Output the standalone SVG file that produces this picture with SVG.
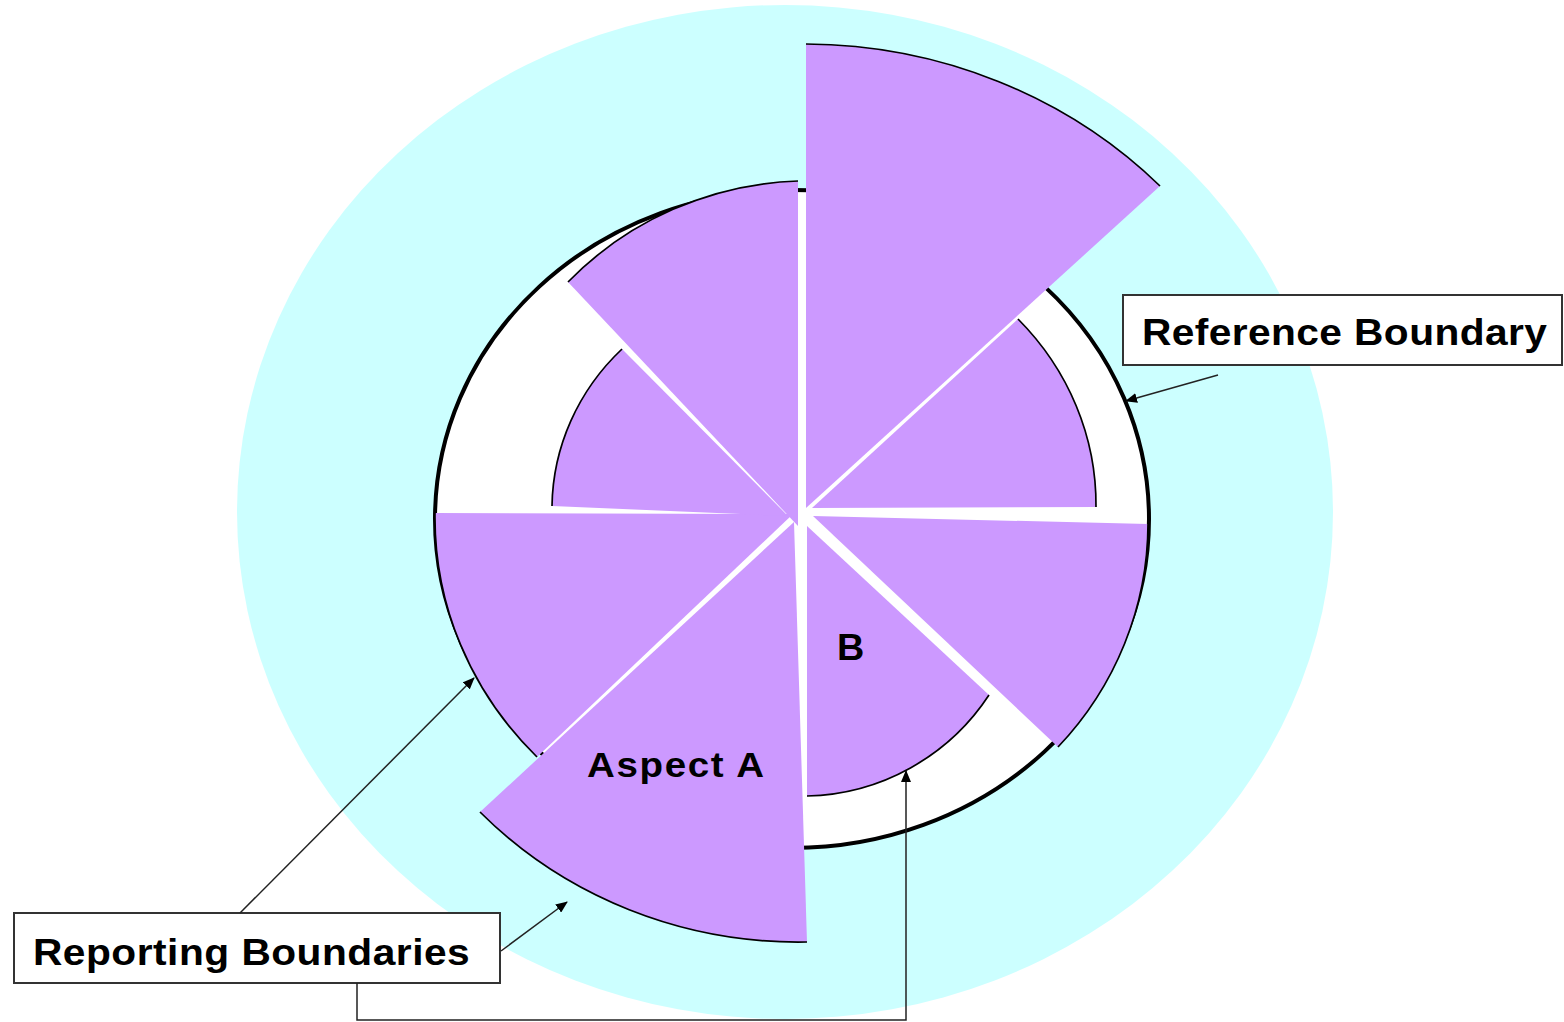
<svg xmlns="http://www.w3.org/2000/svg" width="1564" height="1022" viewBox="0 0 1564 1022">
<defs>
<style>
.sector{fill:#CC99FF;stroke:none}
.rim{fill:none;stroke:#000;stroke-width:1.7}
.lbl{font-family:"Liberation Sans",Arial,sans-serif;font-weight:bold;fill:#000}
.box{fill:#fff;stroke:#333;stroke-width:2}
.conn{fill:none;stroke:#222;stroke-width:1.5}
</style>
<marker id="ah" markerWidth="12" markerHeight="10" refX="11" refY="5" orient="auto" markerUnits="userSpaceOnUse"><path d="M0,0 L12,5 L0,10 Z" fill="#000"/></marker>
</defs>
<rect width="1564" height="1022" fill="#fff"/>
<ellipse id="outer-field" cx="785" cy="512" rx="548" ry="507" fill="#CCFFFF"/>
<g id="reference-circle"><ellipse cx="792" cy="519" rx="357" ry="329" fill="#fff" stroke="#000" stroke-width="4"/></g>
<g id="sector-top-right"><path class="sector" d="M806,508 L806,44 A496,466 0 0 1 1160,186 Z"/><path class="rim" d="M806,44 A496,466 0 0 1 1160,186"/></g>
<g id="sector-right-upper"><path class="sector" d="M812,508 L1018,319 A290,272 0 0 1 1096,507 Z"/><path class="rim" d="M1018,319 A290,272 0 0 1 1096,507"/></g>
<g id="sector-right-lower"><path class="sector" d="M813,516 L1148,524 A340,330 0 0 1 1058,747 Z"/><path class="rim" d="M1148,524 A340,330 0 0 1 1058,747"/></g>
<g id="sector-b"><path class="sector" d="M807,526 L989,695 A224,224 0 0 1 807,796 Z"/><path class="rim" d="M989,695 A224,224 0 0 1 807,796"/><text class="lbl" font-size="36" transform="translate(837,660) scale(1.05,1)">B</text></g>
<g id="sector-aspect-a"><path class="sector" d="M794,522 L807,942 A440,420 0 0 1 480,812 Z"/><path class="rim" d="M807,942 A440,420 0 0 1 480,812"/><text class="lbl" font-size="35" transform="translate(587,777) scale(1.1,1)" textLength="161" lengthAdjust="spacing">Aspect A</text></g>
<g id="sector-left-lower"><path class="sector" d="M793,514 L537,757 A360,343 0 0 1 435,513 Z"/><path class="rim" d="M537,757 A360,343 0 0 1 435,513"/></g>
<g id="sector-left-upper"><path class="sector" d="M788,516 L552,506 A235,225 0 0 1 622,349 Z"/><path class="rim" d="M552,506 A235,225 0 0 1 622,349"/></g>
<g id="sector-top-left"><path class="sector" d="M798,526 L568,282 A335,331 0 0 1 798,181 Z"/><path class="rim" d="M568,282 A335,331 0 0 1 798,181"/></g>
<g id="label-reference-boundary"><rect class="box" x="1123" y="295" width="439" height="70"/><text class="lbl" font-size="37" transform="translate(1142,345) scale(1.1,1)" textLength="368" lengthAdjust="spacing">Reference Boundary</text></g>
<g id="label-reporting-boundaries"><rect class="box" x="14" y="913" width="486" height="70"/><text class="lbl" font-size="37" transform="translate(33,965) scale(1.1,1)" textLength="397" lengthAdjust="spacing">Reporting Boundaries</text></g>
<g id="connectors">
<path class="conn" d="M1218,375 L1126,401" marker-end="url(#ah)"/>
<path class="conn" d="M240,913 L474,678" marker-end="url(#ah)"/>
<path class="conn" d="M501,951 L567,902" marker-end="url(#ah)"/>
<path class="conn" d="M357,983 L357,1020 L906,1020 L906,771" marker-end="url(#ah)"/>
</g>
</svg>
